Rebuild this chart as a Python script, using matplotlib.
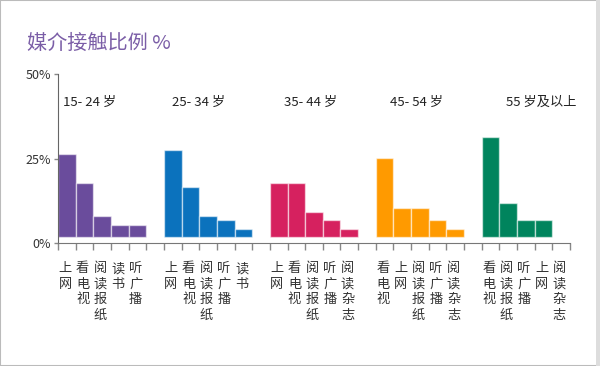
import matplotlib
matplotlib.use("Agg")
import matplotlib.pyplot as plt
from matplotlib.patches import Rectangle

plt.rcParams['font.family'] = ['Noto Sans CJK SC', 'DejaVu Sans']

# data: share of media use per age group (%)
groups = ["15- 24 岁", "25- 34 岁", "35- 44 岁", "45- 54 岁", "55 岁及以上"]
media_1524 = ["上网", "看电视", "阅读报纸", "读书", "听广播"]
media_2534 = ["上网", "看电视", "阅读报纸", "听广播", "读书"]
media_3544 = ["上网", "看电视", "阅读报纸", "听广播", "阅读杂志"]
media_4554 = ["看电视", "上网", "阅读报纸", "听广播", "阅读杂志"]
media_55up = ["看电视", "阅读报纸", "听广播", "上网", "阅读杂志"]
share_1524 = [26.4, 17.7, 8.0, 5.4, 5.4]
share_2534 = [27.6, 16.7, 8.0, 6.8, 4.1]
share_3544 = [17.7, 17.7, 9.2, 6.8, 4.1]
share_4554 = [25.2, 10.4, 10.4, 6.8, 4.1]
share_55up = [31.4, 11.7, 6.8, 6.8, 0.0]
yticks = [0, 25, 50]
ytick_labels = ["0%", "25%", "50%"]

media = [media_1524, media_2534, media_3544, media_4554, media_55up]
shares = [share_1524, share_2534, share_3544, share_4554, share_55up]
colors = ["#6a4c9c", "#0b72bd", "#d6215f", "#ff9a00", "#00845d"]
group_label_x = [0.3, 6.45, 12.8, 18.8, 25.4]
base_gap = 1.8  # bars float slightly above the axis line

fig = plt.figure(figsize=(6, 3.66), dpi=100)
fig.patches.append(Rectangle((0, 0), 1, 1, transform=fig.transFigure,
                             fill=False, edgecolor="#bbbbbb", linewidth=1.5))
fig.patches.append(Rectangle((0.993, 0), 0.007, 1, transform=fig.transFigure,
                             facecolor="#dddddd", edgecolor="none"))

ax = fig.add_axes([58 / 600, (366 - 243) / 366, 512 / 600, 169 / 366])

for g, (names, vals, col) in enumerate(zip(media, shares, colors)):
    xs = [6 * g + i + 0.5 for i in range(len(vals))]
    heights = [max(v - base_gap, 0) for v in vals]
    ax.bar(xs, heights, bottom=base_gap, width=1.0, color=col,
           edgecolor=(1, 1, 1, 0.55), linewidth=1.0)
    for x, name in zip(xs, names):
        ax.annotate("\n".join(name), xy=(x - 0.1, 0), xycoords=("data", "axes fraction"),
                    xytext=(0, -14), textcoords="offset points",
                    ha="center", va="top", fontsize=9.5, color="#333333",
                    linespacing=1.25)
    ax.text(group_label_x[g], 41.5, groups[g], ha="left", va="center",
            fontsize=9.5, color="#222222")

ax.set_xlim(0, 29)
ax.set_ylim(0, 50)
ax.set_xticks(range(0, 30))
ax.set_xticklabels([])
ax.set_yticks(yticks)
ax.set_yticklabels(ytick_labels, fontsize=9, color="#333333")
ax.tick_params(axis="x", direction="out", length=5, width=1, color="#888888")
ax.tick_params(axis="y", direction="out", length=3, width=1, color="#888888", pad=2)
for side in ["top", "right"]:
    ax.spines[side].set_visible(False)
ax.spines["left"].set_color("#666666")
ax.spines["bottom"].set_color("#777777")
ax.patch.set_alpha(0)

fig.text(27 / 600, 1 - 43 / 366, "媒介接触比例 %", fontsize=14.5, color="#7b5ea7",
         ha="left", va="center")

fig.savefig("out.png", dpi=100)
